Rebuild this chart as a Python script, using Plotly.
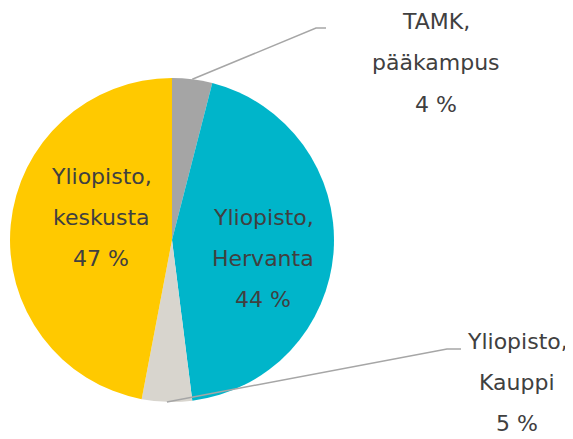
import math
import plotly.graph_objects as go

W, H = 573, 439

labels = ["TAMK, pääkampus", "Yliopisto, Hervanta", "Yliopisto, Kauppi", "Yliopisto, keskusta"]
label_lines = [["TAMK,", "pääkampus"], ["Yliopisto,", "Hervanta"], ["Yliopisto,", "Kauppi"], ["Yliopisto,", "keskusta"]]
values = [4, 44, 5, 47]
colors = ["#A5A5A5", "#00B5CA", "#D8D5CE", "#FFC900"]

# pie geometry in page pixels
CX, CY, R = 172, 240, 162
OFF = 8  # body margin of the html page
TEXT = "#404040"
FONT = "DejaVu Sans"
LINE_GAP = 41


def px(x, y):
    return (x - OFF) / W, 1 - (y - OFF) / H


x0, y1 = px(CX - R, CY - R)
x1, y0 = px(CX + R, CY + R)

fig = go.Figure(
    go.Pie(
        labels=labels,
        values=values,
        marker=dict(colors=colors, line=dict(width=0)),
        sort=False,
        direction="clockwise",
        rotation=0,
        textinfo="none",
        hoverinfo="label+percent",
        showlegend=False,
        domain=dict(x=[x0, x1], y=[y0, y1]),
    )
)

# label block centre (first line) for each slice, and leader line bend points
label_pos = [(436, 22), (263, 217), (517, 341), (101, 176)]
leaders = {0: [(316, 28), (326, 28)], 2: [(447, 349), (461, 349)]}

total = sum(values)
cum = 0
for i, v in enumerate(values):
    mid = (cum + v / 2) / total * 2 * math.pi
    cum += v
    pct = f"{round(v / total * 100)} %"
    lx, ly = label_pos[i]
    for j, t in enumerate(label_lines[i] + [pct]):
        x, y = px(lx, ly + j * LINE_GAP)
        fig.add_annotation(
            x=x, y=y, xref="paper", yref="paper", text=t, showarrow=False,
            xanchor="center", yanchor="middle",
            font=dict(family=FONT, size=22, color=TEXT),
        )
    if i in leaders:
        sx, sy = CX + R * math.sin(mid), CY - R * math.cos(mid)
        pts = [px(sx, sy)] + [px(a, b) for a, b in leaders[i]]
        path = "M " + " L ".join(f"{a},{b}" for a, b in pts)
        fig.add_shape(type="path", path=path, xref="paper", yref="paper",
                      line=dict(color="#A6A6A6", width=1.5))

fig.update_layout(
    width=W,
    height=H,
    margin=dict(l=0, r=0, t=0, b=0),
    paper_bgcolor="white",
    plot_bgcolor="white",
)

fig.write_html("out.html")
